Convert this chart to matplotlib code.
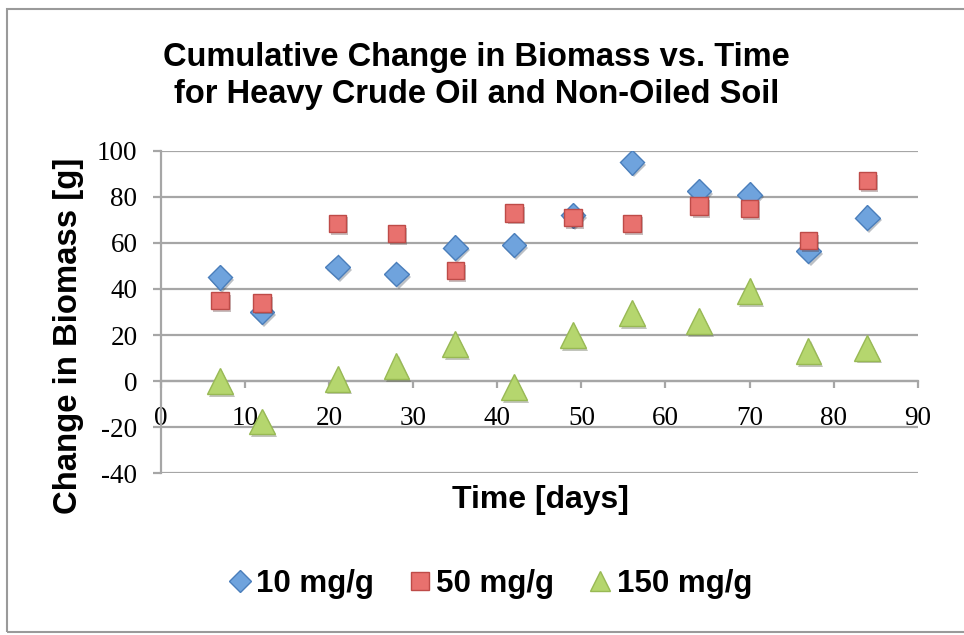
import matplotlib
matplotlib.use("Agg")
import matplotlib.pyplot as plt
import matplotlib.patheffects as pe
from matplotlib.patches import Rectangle
from matplotlib.lines import Line2D

# data
days = [7, 12, 21, 28, 35, 42, 49, 56, 64, 70, 77, 84]
low_dose = [45, 30, 49.5, 46.5, 58, 59, 72, 95, 82.5, 81, 56.5, 71]      # 10 mg/g
mid_dose = [35, 34, 68.5, 64, 48, 73, 71, 68.5, 76, 75, 61, 87]        # 50 mg/g
high_dose = [0, -17.5, 1, 6.5, 16, -2.5, 20, 29.5, 26, 39, 13, 14.5]   # 150 mg/g

series_names = ["10 mg/g", "50 mg/g", "150 mg/g"]
yticks = [-40, -20, 0, 20, 40, 60, 80, 100]
xticks = [0, 10, 20, 30, 40, 50, 60, 70, 80, 90]

plt.rcParams["axes.unicode_minus"] = False
sans = "Liberation Sans"
serif = "Liberation Serif"
grid_col = "#a6a6a6"

# marker, size, face, edge for each series
styles = [("D", 12.5, "#6fa3dd", "#4a7ebb"),
          ("s", 12.5, "#e8716e", "#be4b48"),
          ("^", 18.5, "#b5d66e", "#98b954")]
legend_sizes = [11, 13, 14.5]

fig = plt.figure(figsize=(9.64, 6.35), dpi=100)
ax = fig.add_axes([0.167, 0.2546, 0.785, 0.508])

shadow = [pe.SimplePatchShadow(offset=(1.5, -2), alpha=0.3), pe.Normal()]

for vals, (m, ms, fc, ec) in zip([low_dose, mid_dose, high_dose], styles):
    ax.plot(days, vals, linestyle="none", marker=m, markersize=ms,
            markerfacecolor=fc, markeredgecolor=ec, markeredgewidth=1,
            path_effects=shadow, zorder=3)

ax.set_xlim(0, 90)
ax.set_ylim(-40, 100)
ax.set_xticks(xticks)
ax.set_yticks(yticks)
ax.yaxis.grid(True, color=grid_col, linewidth=1.6)
ax.set_axisbelow(True)

for s in ["top", "right"]:
    ax.spines[s].set_visible(False)
ax.spines["bottom"].set_position(("data", 0))
ax.spines["left"].set_color(grid_col)
ax.spines["bottom"].set_color(grid_col)
ax.spines["left"].set_linewidth(1.6)
ax.spines["bottom"].set_linewidth(1.6)

ax.tick_params(axis="y", direction="out", length=6, width=1.6, color=grid_col, pad=11)
ax.tick_params(axis="x", direction="out", length=5, width=1.6, color=grid_col, pad=13)
for lab in ax.get_xticklabels() + ax.get_yticklabels():
    lab.set_fontfamily(serif)
    lab.set_fontsize(19.5)

fig.text(0.494, 1 - 76 / 635, "Cumulative Change in Biomass vs. Time\nfor Heavy Crude Oil and Non-Oiled Soil",
         ha="center", va="center", fontsize=23.5, fontweight="bold", family=sans,
         linespacing=1.28)
fig.text(69 / 964, 1 - 336 / 635, "Change in Biomass [g]", rotation=90,
         ha="center", va="center", fontsize=23.7, fontweight="bold", family=sans)
fig.text(540 / 964, 1 - 500 / 635, "Time [days]", ha="center", va="center",
         fontsize=23, fontweight="bold", family=sans)

handles = [Line2D([], [], linestyle="none", marker=m, markersize=lms,
                  markerfacecolor=fc, markeredgecolor=ec, markeredgewidth=1)
           for (m, ms, fc, ec), lms in zip(styles, legend_sizes)]
fig.legend(handles, series_names, loc="center", bbox_to_anchor=(490 / 964, 1 - 584 / 635),
           ncol=3, frameon=False,
           prop={"family": sans, "weight": "bold", "size": 22.5},
           handlelength=0.75, handletextpad=0.15, columnspacing=1.1)

# outer chart border
fig.patches.append(Rectangle((7 / 964, 3 / 635), 1.2, 1 - 12 / 635, transform=fig.transFigure,
                             fill=False, edgecolor="#9a9a9a", linewidth=1.5))

fig.savefig("out.png", dpi=100)
